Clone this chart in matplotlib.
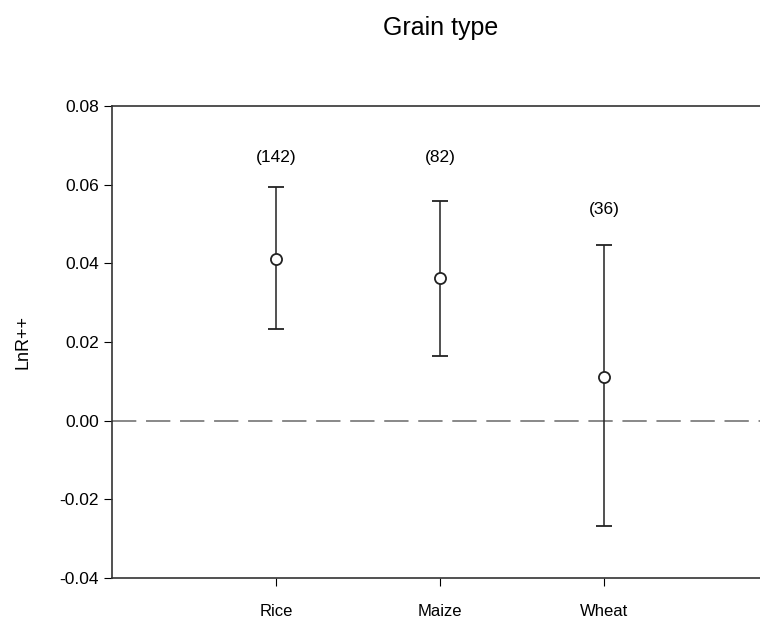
import matplotlib
matplotlib.use("Agg")
import matplotlib.pyplot as plt

plt.rcParams['font.family'] = ['Liberation Sans', 'DejaVu Sans']

grains = ["Rice", "Maize", "Wheat"]
means = [0.0410, 0.0363, 0.0111]
upper = [0.0594, 0.0558, 0.0447]
lower = [0.0233, 0.0164, -0.0268]
counts = ["(142)", "(82)", "(36)"]
count_y = [0.0670, 0.0670, 0.0538]

fig = plt.figure(figsize=(7.6, 6.21), dpi=100)
ax = fig.add_axes([0.1474, 0.0692, 0.8526, 0.760])

xs = [1, 2, 3]
err = [[m - l for m, l in zip(means, lower)], [u - m for m, u in zip(means, upper)]]

ax.axhline(0, color='#888888', lw=1.4, ls=(0, (12.5, 5)), zorder=1)
ax.errorbar(xs, means, yerr=err, fmt='o', color='#222222', ecolor='#222222',
            elinewidth=1.1, capsize=6, capthick=1.1, mfc='white', mec='#222222',
            mew=1.3, ms=8, zorder=3)

for x, y, c in zip(xs, count_y, counts):
    ax.text(x, y, c, ha='center', va='center', fontsize=12.5)

ax.set_xlim(0, 3.95)
ax.set_ylim(-0.04, 0.08)
ax.set_yticks([-0.04, -0.02, 0.0, 0.02, 0.04, 0.06, 0.08])
ax.set_yticklabels([f"{v:.2f}" for v in ax.get_yticks()])
ax.set_xticks(xs)
ax.set_xticklabels(grains)
ax.tick_params(axis='x', direction='out', length=6, pad=13, labelsize=12)
ax.tick_params(axis='y', direction='out', length=6, labelsize=12.5)
ax.spines['right'].set_visible(False)
for s in ['left', 'top', 'bottom']:
    ax.spines[s].set_color('#333333')
    ax.spines[s].set_linewidth(1.2)

ax.set_ylabel("LnR++", fontsize=13, labelpad=20)
fig.text(0.58, 0.955, "Grain type", ha='center', va='center', fontsize=18)

fig.savefig("out.png", dpi=100)
